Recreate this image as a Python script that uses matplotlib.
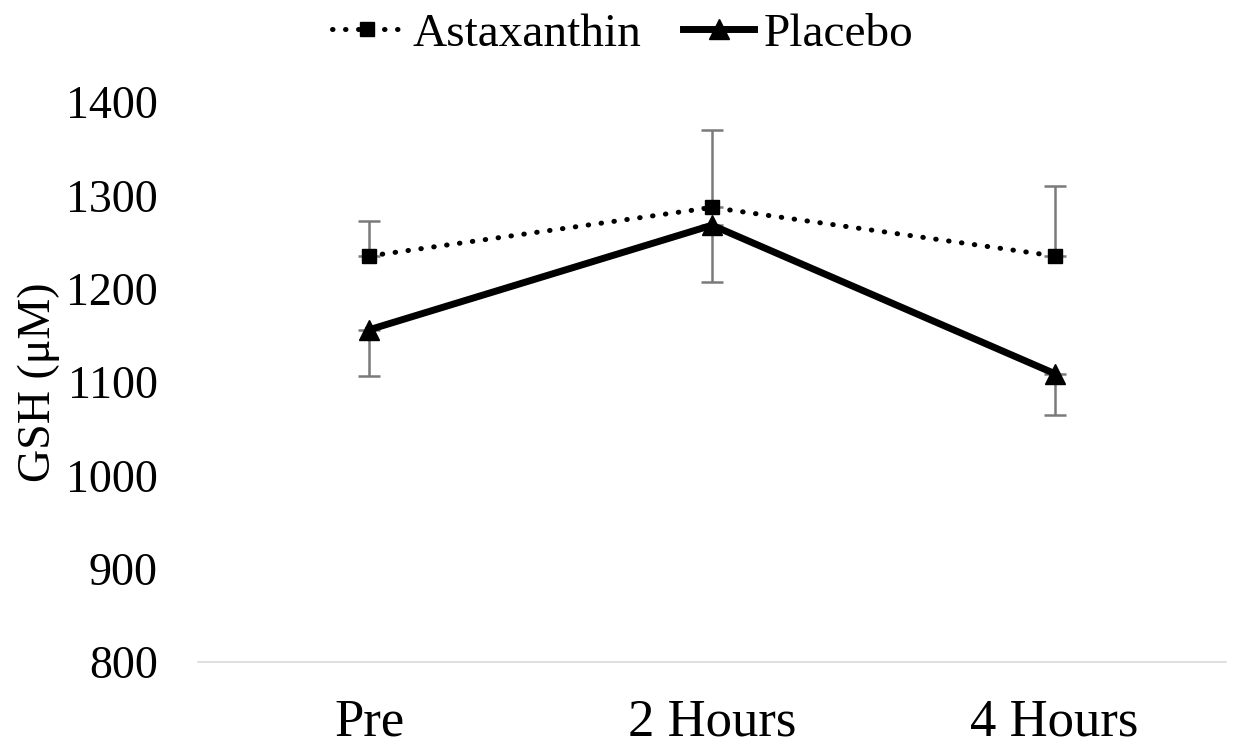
import matplotlib
matplotlib.use("Agg")
import matplotlib.pyplot as plt
import numpy as np

plt.rcParams['font.family'] = ['Liberation Serif', 'DejaVu Serif']

categories = ["Pre", "2 Hours", "4 Hours"]
astaxanthin = [1235, 1287, 1235]
astaxanthin_err = [38, 83, 75]
placebo = [1156, 1268, 1109]
placebo_err = [50, 61, 44]
yticks = [800, 900, 1000, 1100, 1200, 1300, 1400]

fig = plt.figure(figsize=(12.33, 7.49), dpi=100)
ax = fig.add_axes([0.1606, 0.1162, 0.8337, 0.7476])
x = np.arange(len(categories))

err_color = '#7a7a7a'
ax.errorbar(x, astaxanthin, yerr=[np.zeros(3), astaxanthin_err], fmt='none',
            ecolor=err_color, elinewidth=1.8, capsize=8, capthick=1.8, zorder=2)
ax.errorbar(x, placebo, yerr=[placebo_err, np.zeros(3)], fmt='none',
            ecolor=err_color, elinewidth=1.8, capsize=8, capthick=1.8, zorder=2)

ax.plot(x, astaxanthin, linestyle=(0, (0.1, 2.5)), dash_capstyle='round', color='black',
        linewidth=3.6, marker='s', markersize=10, label='Astaxanthin', zorder=3)
ax.plot(x, placebo, linestyle='-', color='black', linewidth=5, marker='^',
        markersize=14, label='Placebo', zorder=3)

ax.set_xlim(-0.5, 2.5)
ax.set_ylim(800, 1400)
ax.set_yticks(yticks)
ax.set_xticks(x)
ax.set_xticklabels(categories)
ax.tick_params(axis='y', length=0, labelsize=33, pad=29)
ax.tick_params(axis='x', length=0, labelsize=38, pad=26)
for s in ['top', 'right', 'left']:
    ax.spines[s].set_visible(False)
ax.spines['bottom'].set_color('#d9d9d9')
ax.spines['bottom'].set_linewidth(1.2)
ax.set_ylabel('GSH (μM)', fontsize=33, labelpad=4)

fig.legend(loc='upper center', bbox_to_anchor=(0.505, 1.04), ncol=2, frameon=False,
           fontsize=34, handlelength=1.5, handletextpad=0.2, columnspacing=0.9)

fig.savefig('out.png', dpi=100)
